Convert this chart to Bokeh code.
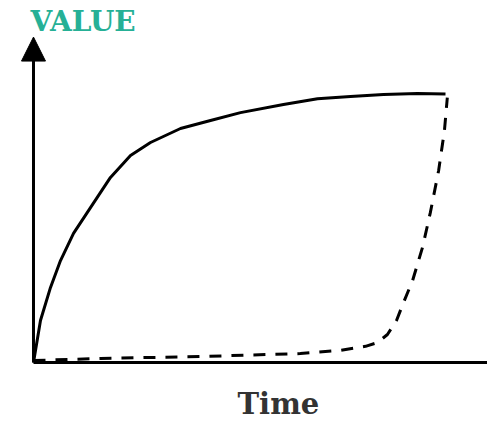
from bokeh.plotting import figure
from bokeh.models import Arrow, NormalHead, Label, Range1d
from bokeh.embed import file_html
from bokeh.resources import INLINE

# Data (time, value)
solid_t = [0, 0.169, 0.412, 0.654, 0.969, 1.38, 1.864, 2.349, 2.833, 3.559, 4.286, 5.012,
           6.053, 6.877, 7.676, 8.475, 9.298, 9.976]
solid_v = [0, 0.156, 0.279, 0.379, 0.48, 0.576, 0.688, 0.77, 0.818, 0.87, 0.90, 0.929,
           0.959, 0.981, 0.989, 0.996, 1.0, 0.998]

dash_t = [0, 1.62, 4.04, 6.46, 7.43, 8.04, 8.33, 8.57, 8.79, 8.96, 9.18, 9.42, 9.61, 9.81, 9.95, 10.02]
dash_v = [0.007, 0.015, 0.022, 0.033, 0.045, 0.06, 0.074, 0.104, 0.156, 0.223, 0.305, 0.428, 0.558, 0.714, 0.862, 0.985]

x_label = "Time"
y_label = "VALUE"

W, H = 487, 423
p = figure(width=W, height=H, output_backend="svg", toolbar_location=None,
           x_range=Range1d(-0.799, 10.993), y_range=Range1d(-0.227, 1.346),
           min_border=0, min_border_left=0, min_border_right=0,
           min_border_top=0, min_border_bottom=0)
p.xaxis.visible = False
p.yaxis.visible = False
p.xgrid.visible = False
p.ygrid.visible = False
p.outline_line_color = None
p.background_fill_color = "white"
p.border_fill_color = "white"

# axes
p.add_layout(Arrow(end=None, x_start=0, y_start=0, x_end=11.0, y_end=0,
                   line_color="black", line_width=3))
p.add_layout(Arrow(end=NormalHead(size=24, fill_color="black", line_color="black", line_width=1),
                   x_start=0, y_start=0, x_end=0, y_end=1.21,
                   line_color="black", line_width=3))

p.line(solid_t, solid_v, line_color="black", line_width=3)
p.line(dash_t, dash_v, line_color="black", line_width=3, line_dash="12 10")

p.add_layout(Label(x=-0.073, y=1.331, text=y_label, text_baseline="top", text_align="left",
                   text_font="DejaVu Serif", text_font_style="bold", text_font_size="28px",
                   text_color="#26b096"))
p.add_layout(Label(x=5.93, y=-0.093, text=x_label, text_baseline="top", text_align="center",
                   text_font="DejaVu Serif", text_font_style="bold", text_font_size="29px",
                   text_color="#333333"))

open("out.html", "w").write(file_html(p, INLINE))
